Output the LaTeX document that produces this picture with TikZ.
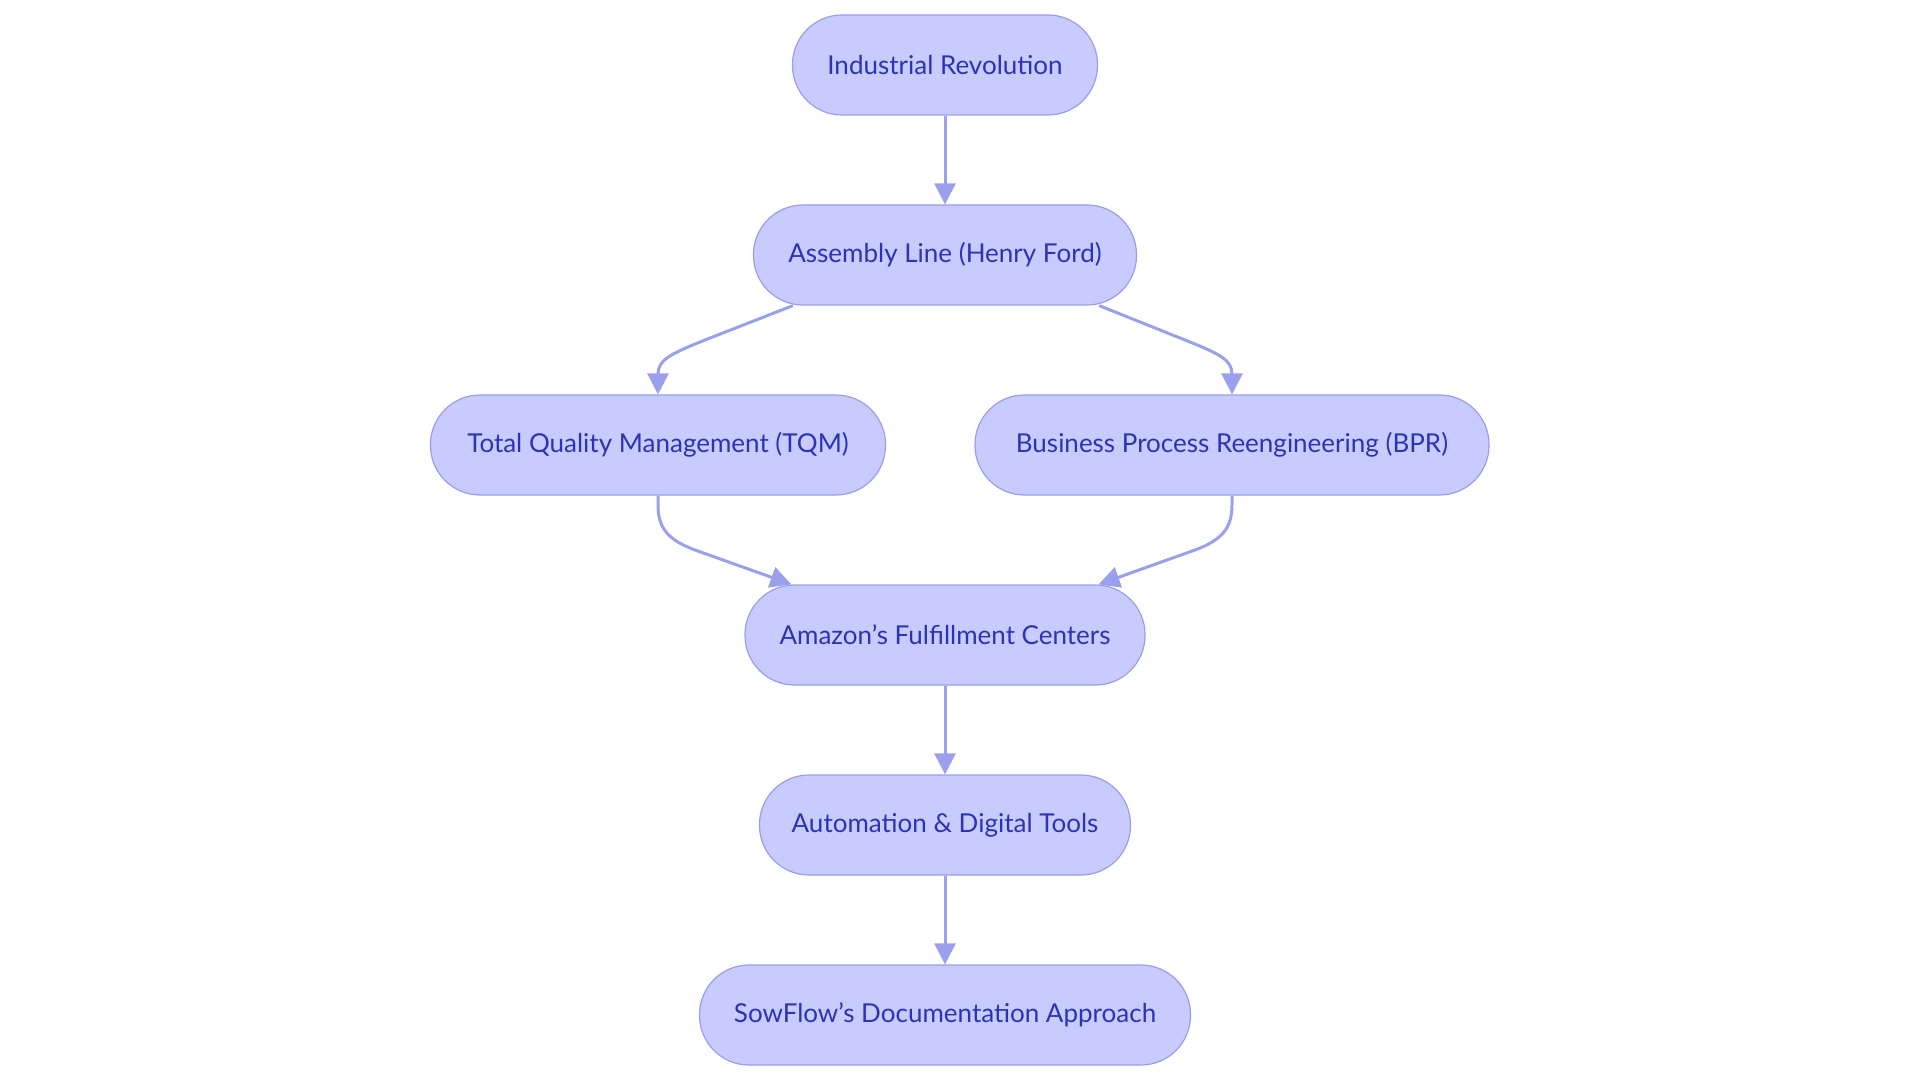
\documentclass[tikz,border=0pt]{standalone}
\usepackage{fontspec}
\setmainfont{Lato}
\usetikzlibrary{arrows.meta,calc}
\definecolor{nodefill}{HTML}{C8CBFD}
\definecolor{nodeline}{HTML}{9A9EEA}
\definecolor{nodetext}{HTML}{2E32B4}
\definecolor{edgecol}{HTML}{9AA0EC}
\tikzset{
  stage/.style={draw=nodeline, line width=1.2pt, fill=nodefill, text=nodetext,
    rounded corners=49.5pt, minimum height=100pt, inner sep=0pt,
    font=\fontsize{26}{30}\selectfont},
  flow/.style={draw=edgecol, line width=3pt, -{Triangle[length=21pt,width=21pt]}}
}
\begin{document}
\begin{tikzpicture}[x=1pt,y=-1pt]
\useasboundingbox (0,0) rectangle (1920,1083);
\node[stage, minimum width=305pt] (ir)  at (945,65)   {Industrial Revolution};
\node[stage, minimum width=383pt] (asm) at (945,255)  {Assembly Line (Henry Ford)};
\node[stage, minimum width=455pt] (tqm) at (658,445)  {Total Quality Management (TQM)};
\node[stage, minimum width=514pt] (bpr) at (1232,445) {Business Process Reengineering (BPR)};
\node[stage, minimum width=400pt] (amz) at (945,635)  {Amazon’s Fulfillment Centers};
\node[stage, minimum width=371pt] (aut) at (945,825)  {Automation \& Digital Tools};
\node[stage, minimum width=491pt] (sow) at (945,1015) {SowFlow’s Documentation Approach};

\draw[flow] (ir.south) -- (asm.north);
\draw[flow] ($(asm.south west)+(40,0)$) -- (705,340) .. controls (670,354) and (658,360) .. (tqm.north);
\draw[flow] ($(asm.south east)+(-38,0)$) -- (1185,340) .. controls (1220,354) and (1232,360) .. (bpr.north);
\draw[flow] (tqm.south) -- (658,505) .. controls (658,528) and (668,540) .. (695,550) -- ($(amz.north west)+(47,0)$);
\draw[flow] (bpr.south) -- (1232,505) .. controls (1232,528) and (1222,540) .. (1195,550) -- ($(amz.north east)+(-47,0)$);
\draw[flow] (amz.south) -- (aut.north);
\draw[flow] (aut.south) -- (sow.north);
\end{tikzpicture}
\end{document}
